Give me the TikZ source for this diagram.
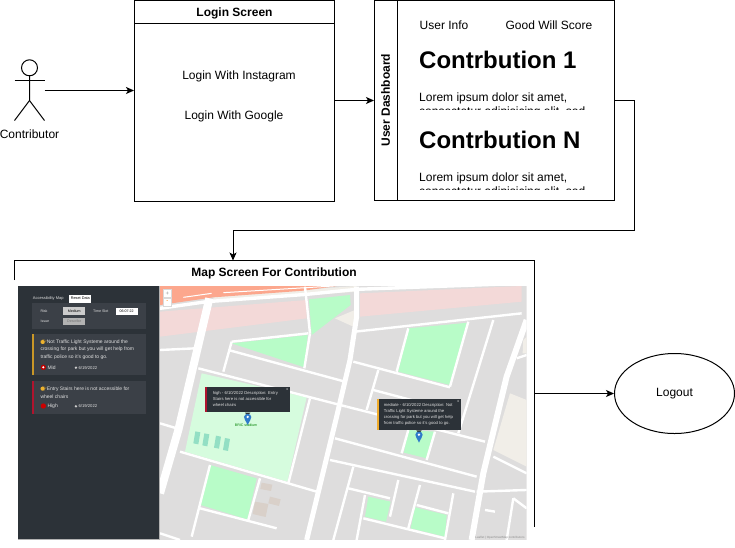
\documentclass[tikz,border=0pt]{standalone}
\usepackage{fontspec}
\setmainfont{Liberation Sans}
\newfontfamily\emojifont{Noto Emoji}
\usetikzlibrary{arrows.meta}
\usetikzlibrary{shapes.geometric}
\usetikzlibrary{calc}
\definecolor{sidedark}{HTML}{2C3238}
\definecolor{sidepanel}{HTML}{3B4047}
\definecolor{mapgray}{HTML}{DEDDDD}
\definecolor{mappark}{HTML}{B8FCC8}
\definecolor{mapfield}{HTML}{D6FCDE}
\definecolor{mappitch}{HTML}{93DFC4}
\definecolor{mappink}{HTML}{F3D9D8}
\definecolor{maporange}{HTML}{FCA78D}
\definecolor{mapsand}{HTML}{F1EEE8}
\definecolor{mapbrown}{HTML}{D9D0C9}
\definecolor{pinblue}{HTML}{2F7BCB}
\definecolor{stripered}{HTML}{B0142E}
\definecolor{stripegold}{HTML}{F0AC2C}
\definecolor{handgold}{HTML}{EDB22E}
\tikzset{
    lane/.style={draw,line width=1pt,inner sep=0pt},
    flow/.style={line width=1pt,-{Stealth[length=8pt,width=7pt,inset=2pt]}},
    plain/.style={font=\fontsize{12pt}{14pt}\selectfont,inner sep=0pt},
    head/.style={font=\fontsize{12pt}{14pt}\selectfont\bfseries,inner sep=0pt},
    big/.style={font=\fontsize{24pt}{28pt}\selectfont\bfseries,inner sep=0pt,anchor=west},
    lorem/.style={font=\fontsize{12pt}{14pt}\selectfont,inner sep=0pt,anchor=north west,align=left},
    road/.style={white,line width=2.4pt},
    side/.style={font=\fontsize{5pt}{6pt}\selectfont,inner sep=0pt,anchor=west,text=white!88!black},
    tiny/.style={font=\fontsize{3.6pt}{4pt}\selectfont,inner sep=0pt,text=white!88!black},
    pop/.style={font=\fontsize{4.2pt}{6pt}\selectfont,inner sep=0pt,anchor=north west,align=left,text=white!88!black},
}
\begin{document}
\begin{tikzpicture}[x=1pt,y=-1pt]
\useasboundingbox (0,0) rectangle (735,547);

% actor
\coordinate (neck) at (29.5,76);
\coordinate (hip) at (29.5,100.5);
\draw[line width=1pt] (29.5,67.8) circle (8);
\draw[line width=1pt] (neck) -- (hip) -- ++(-15,20);
\draw[line width=1pt] (hip) -- ++(15,20);
\draw[line width=1pt] (14.5,80.5) -- (44.5,80.5);
\node[plain] (actor) at (29.5,134.5) {Contributor};
\coordinate (actorout) at (44.5,90.5);

% login
\node[lane,minimum width=200pt,minimum height=201pt] (login) at (234.5,100.5) {};
\draw[line width=1pt] (135,23.5) -- (334,23.5);
\node[head] (logintitle) at (234.5,13) {Login Screen};
\node[plain] (insta) at (239,76) {Login With Instagram};
\node[plain] (google) at (234,116) {Login With Google};

% dashboard
\node[lane,minimum width=240pt,minimum height=200pt] (dash) at (494.5,100.5) {};
\draw[line width=1pt] (397.5,0.5) -- (397.5,200.5);
\node[head,rotate=90] (dashtitle) at (385.5,100) {User Dashboard};
\node[plain] (info) at (444,25.5) {User Info};
\node[plain] (score) at (549,25.5) {Good Will Score};
\node[big] (contone) at (419,60) {Contrbution 1};
\node[big] (contn) at (419,139.5) {Contrbution N};
\begin{scope}
\clip (400,80) rectangle (600,109.7);
\node[lorem] (loremone) at (419,92.5) {Lorem ipsum dolor sit amet,\\consectetur adipisicing elit, sed};
\end{scope}
\begin{scope}
\clip (400,160) rectangle (600,189.7);
\node[lorem] (loremn) at (419,172.5) {Lorem ipsum dolor sit amet,\\consectetur adipisicing elit, sed};
\end{scope}

% map frame
\coordinate (frameleft) at (14.7,280);
\coordinate (frametop) at (233,260.5);
\coordinate (frameright) at (534.5,527);
\coordinate (frameout) at (534.5,393.5);
\draw[line width=1pt] (frameleft) |- (frameright |- frametop) -- (frameright);
\node[head] (maptitle) at (274,273) {Map Screen For Contribution};

% map picture, numbers below are in 1/3 pt
\begin{scope}[shift={(160,260)},x=0.3333pt,y=-0.3333pt]
\clip (0,78) rectangle (1100,840);
\fill[mapgray] (0,78) rectangle (1100,840);
\fill[mapsand] (160,108) -- (590,78) -- (590,95) -- (160,125) -- cycle;
\fill[maporange] (0,78) -- (530,78) -- (430,92) -- (160,112) -- (0,135) -- cycle;
\draw[white,line width=1pt] (70,112) -- (155,100);
\draw[white,line width=1pt] (190,98) -- (520,78);
\fill[mappink] (0,155) -- (440,120) -- (440,175) -- (0,230) -- cycle;
\fill[mappink] (600,100) -- (1085,78) -- (1085,125) -- (600,170) -- cycle;
\fill[mapsand] (1050,400) -- (1100,420) -- (1100,620) -- (1000,570) -- cycle;
\fill[mapsand] (1090,240) -- (1100,230) -- (1100,280) -- (1088,280) -- cycle;
\fill[mapsand] (525,175) -- (585,150) -- (580,200) -- cycle;
\fill[mappark] (447,118) -- (570,105) -- (572,135) -- (455,225) -- cycle;
\fill[mappark] (215,250) -- (443,225) -- (433,322) -- cycle;
\fill[mappark] (745,205) -- (925,188) -- (870,375) -- (715,335) -- cycle;
\fill[mapfield] (125,340) -- (440,412) -- (382,665) -- (75,575) -- cycle;
\fill[mappark] (150,615) -- (290,655) -- (262,778) -- (122,735) -- cycle;
\fill[mappark] (745,510) -- (825,515) -- (800,595) -- (732,578) -- cycle;
\fill[mappark] (625,710) -- (692,725) -- (678,785) -- (615,770) -- cycle;
\fill[mappark] (765,742) -- (860,765) -- (855,830) -- (752,805) -- cycle;
\foreach \px/\py in {106/514,133/520,168/527,195/534}
  \fill[mappitch] (\px,\py) -- ++(15,3) -- ++(-6,36) -- ++(-15,-3) -- cycle;
\fill[mapbrown] (305,668) -- (337,674) -- (333,693) -- (301,687) -- cycle;
\fill[mapbrown] (330,710) -- (362,718) -- (357,738) -- (325,730) -- cycle;
\fill[mapbrown] (285,725) -- (325,732) -- (317,771) -- (278,762) -- cycle;
% minor roads
\foreach \xa/\ya/\xb/\yb in {0/270/105/265,215/245/190/335,215/245/445/220,435/80/450/220,450/220/433/325,
  205/270/555/365,115/325/560/440,560/440/975/545,585/215/1085/160,745/205/710/335,925/185/870/380,
  1000/180/895/520,580/305/870/382,655/330/620/450,640/390/830/440,450/415/385/670,60/575/470/695,
  0/490/50/505,525/535/950/650,510/600/945/695,580/620/520/840,715/660/690/770,780/675/745/805,
  880/700/855/840,565/685/690/715,615/705/590/840,610/775/855/835,770/735/865/760,825/515/800/600,
  745/510/725/580,150/615/95/830,300/655/265/780,120/745/350/805,0/820/60/840,1000/590/1100/640,
  975/750/1005/755,1060/715/1040/840,1060/715/1100/745,1100/285/1070/295,950/695/1100/690}
  \draw[road] (\xa,\ya) -- (\xb,\yb);
% main roads
\draw[white,line width=3.4pt] (0,145) -- (140,125) -- (440,103) -- (590,88) -- (1085,70);
\draw[white,line width=8pt] (148,115) -- (55,510) -- (0,700);
\draw[white,line width=5pt] (590,80) -- (590,170) -- (570,300) -- (530,470) -- (440,840);
\draw[white,line width=6pt] (1100,180) -- (1040,350) -- (970,640) -- (935,840);
% zoom buttons
\node[draw=black!15,fill=white,minimum size=7.5pt,inner sep=0pt,text=black!40,font=\fontsize{6pt}{6pt}\selectfont] (zoomin) at (22,100) {+};
\node[draw=black!15,fill=white,minimum size=7.5pt,inner sep=0pt,text=orange,font=\fontsize{6pt}{6pt}\selectfont] (zoomout) at (22,126) {-};
% popups
\foreach \mx/\my in {263/458,777/511}{
  \fill[sidedark] (\mx-8,\my) -- (\mx+8,\my) -- (\mx,\my+10) -- cycle;
  \fill[pinblue] (\mx,\my+37) .. controls (\mx-5,\my+25) and (\mx-11,\my+20) .. (\mx-11,\my+13)
    .. controls (\mx-11,\my+1) and (\mx+11,\my+1) .. (\mx+11,\my+13)
    .. controls (\mx+11,\my+20) and (\mx+5,\my+25) .. (\mx,\my+37) -- cycle;
  \fill[white] (\mx,\my+13) circle (4);
}
\fill[sidedark] (138,380) rectangle (391,457);
\fill[stripered] (136,380) rectangle (142,457);
\node[pop] (pophigh) at (158,395) {high - 6/10/2022 Description: Entry\\Stairs here is not accessible for\\wheel chairs};
\node[tiny] (closehigh) at (382,388) {x};
\fill[sidedark] (652,417) rectangle (904,511);
\fill[stripegold] (650,417) rectangle (656,511);
\node[pop] (popmed) at (671,431) {mediate - 6/10/2022 Description: Not\\Traffic Light Systeme around the\\crossing for park but you will get help\\from traffic police so it's good to go.};
\node[tiny] (closemed) at (895,425) {x};
\node[font=\fontsize{3.6pt}{4pt}\selectfont,inner sep=0pt,text=green!50!black] (stadium) at (258,496) {BRIC stadium};
\node[font=\fontsize{3pt}{4pt}\selectfont,inner sep=0pt,text=black!45] (leaflet) at (1020,832) {Leaflet | OpenStreetMap contributors};
\end{scope}

% side bar, numbers in 1/3 pt too
\begin{scope}[shift={(0,260)},x=0.3333pt,y=-0.3333pt]
\fill[sidedark] (55,78) rectangle (478,838);
\draw[black!30,line width=0.7pt] (55,838.5) -- (478.5,838.5) -- (478.5,78);
\fill[sidepanel] (97,128) rectangle (437,207);
\fill[sidepanel] (97,222) rectangle (437,345);
\fill[sidepanel] (97,362) rectangle (437,462);
\fill[handgold!85!black] (97,222) rectangle (103,345);
\fill[stripered] (97,362) rectangle (103,462);
\node[tiny,anchor=west,font=\fontsize{4pt}{4pt}\selectfont] (maphead) at (98,115) {Accessibility Map};
\node[fill=white,minimum width=22pt,minimum height=8pt,inner sep=0pt,text=black,font=\fontsize{3.8pt}{4pt}\selectfont] (reset) at (241,116) {Reset Data};
\node[tiny,anchor=west] (risk) at (121,153) {Risk};
\node[fill=black!20,minimum width=22pt,minimum height=8pt,inner sep=0pt,text=black,font=\fontsize{3.6pt}{4pt}\selectfont] (riskbox) at (223,153) {Medium};
\node[tiny,anchor=west] (slot) at (279,153) {Time Slot};
\node[fill=white,minimum width=22pt,minimum height=7pt,inner sep=0pt,text=black,font=\fontsize{3.6pt}{4pt}\selectfont] (slotbox) at (380,153) {06:07:22};
\node[tiny,anchor=west] (issue) at (121,183) {Issue};
\node[fill=black!30,minimum width=22pt,minimum height=7pt,inner sep=0pt,text=black!55,font=\fontsize{3.6pt}{4pt}\selectfont] (issuebox) at (223,183) {Describe};
\fill[handgold] (128,246) circle (6);
\fill[handgold] (128,386) circle (6);
\node[side] (notline) at (121,246) {{\color{handgold}\emojifont 👉}Not Traffic Light Systeme around the};
\node[side] (notlinetwo) at (121,269) {crossing for park but you will get help from};
\node[side] (notlinethree) at (121,292) {traffic police so it's good to go.};
\fill[red!75!black] (130,322) circle (8);
\fill[white] (130,322) circle (3.5);
\node[side] (mid) at (142,322) {Mid};
\fill[white!80!black] (228,323) circle (4);
\node[side,font=\fontsize{4.2pt}{6pt}\selectfont] (midday) at (235,323) {6/19/2022};
\node[side] (stair) at (121,386) {{\color{handgold}\emojifont 👉}Entry Stairs here is not accessible for};
\node[side] (stairtwo) at (121,409) {wheel chairs};
\fill[red!80!black] (130,438) circle (8);
\node[side] (high) at (142,438) {High};
\fill[white!80!black] (228,439) circle (4);
\node[side,font=\fontsize{4.2pt}{6pt}\selectfont] (highday) at (235,439) {6/19/2022};
\end{scope}

% logout
\node[draw,line width=1pt,ellipse,minimum width=120pt,minimum height=80pt,inner sep=0pt,plain] (logout) at (674.5,393.5) {Logout};

% flows
\draw[flow] (actorout) -- (actorout -| login.west);
\draw[flow] (login.east) -- (dash.west);
\draw[flow] (dash.east) -- ++(19.5,0) |- (233,230.5) -- (frametop);
\draw[flow] (frameout) -- (logout.west);
\end{tikzpicture}
\end{document}
